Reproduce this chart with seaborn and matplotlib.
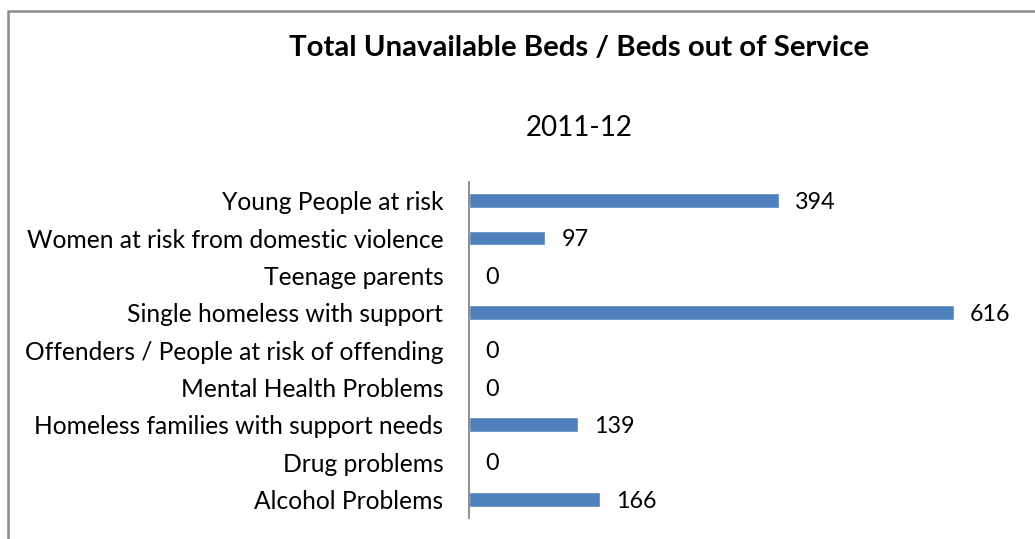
import matplotlib
matplotlib.use("Agg")
import matplotlib.pyplot as plt
import seaborn as sns
import pandas as pd
from matplotlib.patches import Rectangle

categories = [
    "Young People at risk",
    "Women at risk from domestic violence",
    "Teenage parents",
    "Single homeless with support",
    "Offenders / People at risk of offending",
    "Mental Health Problems",
    "Homeless families with support needs",
    "Drug problems",
    "Alcohol Problems",
]
beds = [394, 97, 0, 616, 0, 0, 139, 0, 166]

title = "Total Unavailable Beds / Beds out of Service"
subtitle = "2011-12"

sns.set_theme(style="white")
plt.rcParams["font.family"] = ["Lato", "DejaVu Sans"]

df = pd.DataFrame({"category": categories, "beds": beds})

fig = plt.figure(figsize=(10.35, 5.39), dpi=100)
ax = fig.add_axes([469 / 1035, 1 - 518 / 539, 551 / 1035, 336 / 539])

sns.barplot(data=df, y="category", x="beds", orient="h", color="#4F81BD",
            width=0.4, saturation=1, ax=ax)

ax.set_xlim(0, 700)
ax.set_ylim(len(categories) - 0.5, -0.5)
ax.set_xlabel("")
ax.set_ylabel("")
ax.set_xticks([])
for side in ("top", "right", "bottom"):
    ax.spines[side].set_visible(False)
ax.spines["left"].set_color("#868686")
ax.spines["left"].set_linewidth(1.3)
ax.tick_params(axis="y", length=0, pad=18.5, labelsize=17.7, labelcolor="black")

labels = ax.bar_label(ax.containers[0], labels=[str(v) for v in beds],
                      padding=11.5, fontsize=16.8, color="black")
for t in labels:
    t.set_verticalalignment("center_baseline")

fig.text(579 / 1035, 1 - 48 / 539, title, ha="center", va="center",
         fontsize=21.2, fontweight="bold", color="black")
fig.text(579 / 1035, 1 - 128 / 539, subtitle, ha="center", va="center",
         fontsize=20, color="black")

# chart frame
fig.patches.append(Rectangle((8 / 1035, -0.1), 1.2, 1 - 11 / 539 + 0.1,
                             transform=fig.transFigure, fill=False,
                             edgecolor="#8c8c8c", linewidth=1.8))

fig.savefig("out.png", dpi=100)
